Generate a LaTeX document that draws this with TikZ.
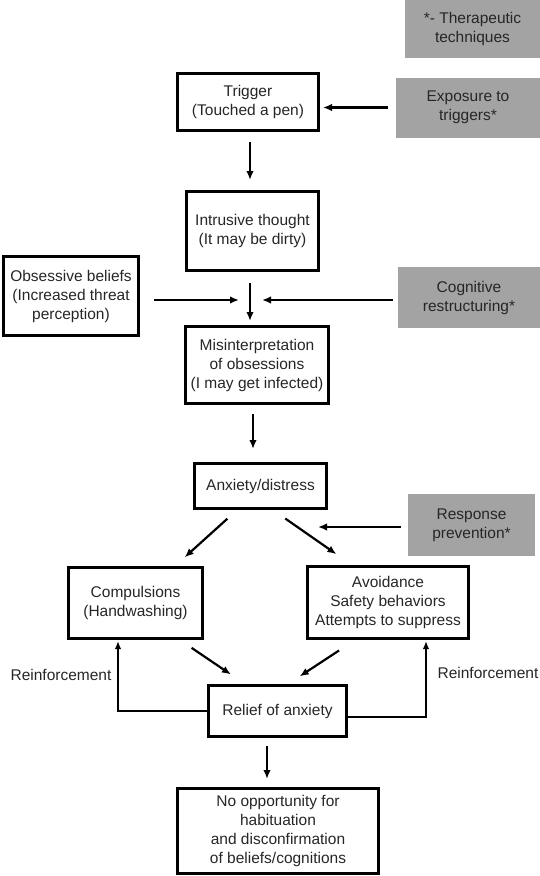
\documentclass[tikz,border=0pt]{standalone}
\usepackage{fontspec}
\setmainfont{Liberation Sans}
\usetikzlibrary{arrows.meta}

\begin{document}
\begin{tikzpicture}[x=1pt,y=-1pt,
	every node/.style={font=\fontsize{15.5}{19}\selectfont, text=black!85, align=center, inner sep=0pt},
	stage/.style n args={2}{draw=black, line width=3pt, minimum width=#1pt, minimum height=#2pt},
	technique/.style n args={2}{fill=black!36, minimum width=#1pt, minimum height=#2pt},
	arr/.style={line width=2.2pt, -{Latex[length=9pt,width=7.5pt]}},
	loop/.style={line width=1.8pt, -{Latex[length=8pt,width=6.5pt]}}]
	\useasboundingbox (0,0) rectangle (540,876);
	\node[technique={135}{58}] (legend) at (472.5, 29) {*- Therapeutic\\techniques};
	\node[stage={141}{57}] (trigger) at (248, 102) {Trigger\\(Touched a pen)};
	\node[technique={144}{60}] (exposure) at (468, 107.5) {Exposure to\\triggers*};
	\node[stage={132}{79}] (intrusive) at (252.5, 231) {Intrusive thought\\(It may be dirty)};
	\node[stage={135}{79}] (beliefs) at (71, 296) {Obsessive beliefs\\(Increased threat\\perception)};
	\node[technique={142}{61}] (cognitive) at (469, 297.5) {Cognitive\\restructuring*};
	\node[stage={143}{77}] (misint) at (257, 365) {Misinterpretation\\of obsessions\\(I may get infected)};
	\node[stage={132}{45}] (anxiety) at (260.5, 486) {Anxiety/distress};
	\node[technique={127}{62}] (response) at (471.5, 525) {Response\\prevention*};
	\node[stage={134}{71}] (compuls) at (135.5, 603) {Compulsions\\(Handwashing)};
	\node[stage={161}{72}] (avoid) at (388, 602.5) {Avoidance\\Safety behaviors\\Attempts to suppress};
	\node[stage={138}{51}] (relief) at (277.5, 711) {Relief of anxiety};
	\node[stage={201}{85}] (nohabit) at (278, 831) {No opportunity for\\habituation\\and disconfirmation\\of beliefs/cognitions};
	\node (reinfL) at (61, 675) {Reinforcement};
	\node (reinfR) at (488, 673) {Reinforcement};
	\coordinate (meet) at (250, 300);
	\coordinate (halt) at (318, 527);
	\path[arr] (exposure.west) edge[shorten <=8pt, shorten >=3pt] (exposure.west -| trigger.east);
	\path[arr] ([xshift=2pt]trigger.south) edge[shorten <=10pt, shorten >=10pt] ([xshift=2pt]trigger.south |- intrusive.north);
	\path[arr] (beliefs.east |- meet) edge[shorten <=14pt, shorten >=11pt] (meet);
	\path[arr] (cognitive.west |- meet) edge[shorten <=5pt, shorten >=12pt] (meet);
	\path[arr] (intrusive.south -| meet) edge[shorten <=11pt, shorten >=4pt] (misint.north -| meet);
	\path[arr] ([xshift=-4pt]misint.south) edge[shorten <=9pt, shorten >=13pt] ([xshift=-4pt]misint.south |- anxiety.north);
	\path[arr] ([xshift=-23.5pt]anxiety.south) edge[shorten <=13pt, shorten >=13pt] ([xshift=39.5pt]compuls.north);
	\path[arr] ([xshift=12.5pt]anxiety.south) edge[shorten <=15pt, shorten >=19pt] ([xshift=-36pt]avoid.north);
	\path[arr] (response.west |- halt) edge[shorten <=7pt] (halt);
	\path[arr] ([xshift=44.5pt]compuls.south) edge[shorten <=14pt, shorten >=17pt] ([xshift=-32.5pt]relief.north);
	\path[arr] ([xshift=-33pt]avoid.south) edge[shorten <=19pt, shorten >=14pt] ([xshift=10.5pt]relief.north);
	\draw[loop, shorten >=1pt] (relief.west) -| ([xshift=-17.5pt]compuls.south);
	\draw[loop, shorten >=1pt] ([yshift=-6pt]relief.east) -| ([xshift=38pt]avoid.south);
	\path[arr] ([xshift=-10.5pt]relief.south) edge[shorten <=8pt, shorten >=8pt] ([xshift=-10.5pt]relief.south |- nohabit.north);
\end{tikzpicture}
\end{document}
